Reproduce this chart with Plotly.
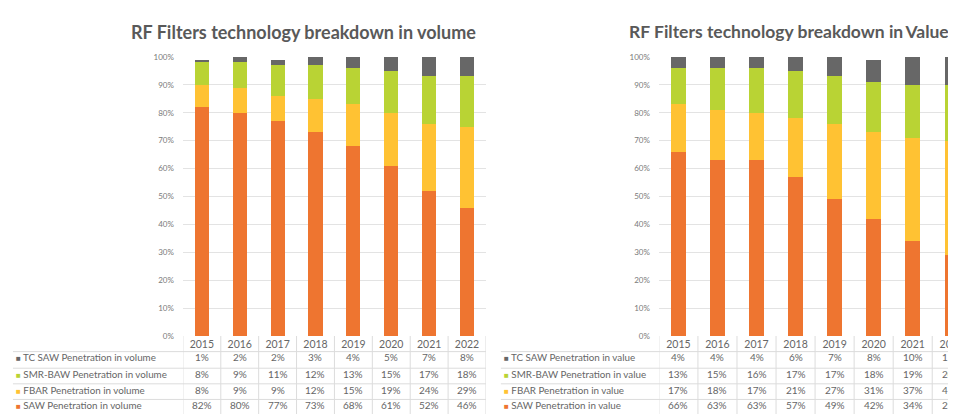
import plotly.graph_objects as go
from plotly.subplots import make_subplots

years = ["2015", "2016", "2017", "2018", "2019", "2020", "2021", "2022"]

# volume breakdown (%)
vol_saw = [82, 80, 77, 73, 68, 61, 52, 46]
vol_fbar = [8, 9, 9, 12, 15, 19, 24, 29]
vol_smr = [8, 9, 11, 12, 13, 15, 17, 18]
vol_tc = [1, 2, 2, 3, 4, 5, 7, 8]

# value breakdown (%)
val_saw = [66, 63, 63, 57, 49, 42, 34, 29]
val_fbar = [17, 18, 17, 21, 27, 31, 37, 41]
val_smr = [13, 15, 16, 17, 17, 18, 19, 20]
val_tc = [4, 4, 4, 6, 7, 8, 10, 11]

y_ticks = [0, 10, 20, 30, 40, 50, 60, 70, 80, 90, 100]
y_tick_labels = [f"{v}%" for v in y_ticks]

colors = {"saw": "#EE7530", "fbar": "#FFC233", "smr": "#B9D334", "tc": "#676767"}

W, H = 956, 414
FONT = "Lato"
TXT = "#666666"
GRID = "#e3e3e3"
LINE = "#dcdcdc"

def px_x(p):
    return p / W

def px_y(p):
    return 1 - p / H

fig = make_subplots(rows=1, cols=2)

panels = [
    (1, "x", "volume", [("tc", "TC SAW", vol_tc), ("smr", "SMR-BAW", vol_smr),
                        ("fbar", "FBAR", vol_fbar), ("saw", "SAW", vol_saw)]),
    (2, "x2", "value", [("tc", "TC SAW", val_tc), ("smr", "SMR-BAW", val_smr),
                        ("fbar", "FBAR", val_fbar), ("saw", "SAW", val_saw)]),
]

for col, xref, kind, rows in panels:
    # stack bottom-up: SAW, FBAR, SMR-BAW, TC SAW
    for key, name, vals in reversed(rows):
        fig.add_trace(go.Bar(x=years, y=vals, name=f"{name} Penetration in {kind}",
                             marker=dict(color=colors[key], line=dict(width=0)),
                             showlegend=False, hoverinfo="skip"), row=1, col=col)

fig.update_layout(barmode="stack", bargap=0.63)

# table geometry (pixels)
row_y = [353, 370, 386, 402]
hlines_y = [347, 364, 380, 396, 413]
plot_bottom = 331
label_left = {"x": 5, "x2": 496}
table_right = {"x": 481, "x2": 956}

annotations = []
shapes = []
for col, xref, kind, rows in panels:
    for (key, name, vals), ry in zip(rows, row_y):
        annotations.append(dict(
            x=px_x(label_left[xref] + 2), y=px_y(ry), xref="paper", yref="paper",
            xanchor="left", yanchor="middle", showarrow=False, borderpad=0,
            text=f"<span style='color:{colors[key]};font-size:8px'>■</span> {name} Penetration in {kind}",
            font=dict(family=FONT, size=9.8, color=TXT)))
        for i, v in enumerate(vals):
            # category index, not the year string (numeric strings read as indices)
            annotations.append(dict(
                x=i, y=px_y(ry), xref=xref, yref="paper", borderpad=0,
                xanchor="center", yanchor="middle", showarrow=False,
                text=f"{v}%", font=dict(family=FONT, size=10, color=TXT)))
    for hy in hlines_y:
        shapes.append(dict(type="line", xref="paper", yref="paper",
                           x0=px_x(label_left[xref]), x1=px_x(table_right[xref]),
                           y0=px_y(hy), y1=px_y(hy), line=dict(color=LINE, width=1)))
    for i in range(len(years) + 1):
        shapes.append(dict(type="line", xref=xref, yref="paper",
                           x0=i - 0.5, x1=i - 0.5, y0=px_y(plot_bottom), y1=0,
                           line=dict(color=LINE, width=1)))

annotations.append(dict(
    x=px_x(122), y=px_y(19), xref="paper", yref="paper", xanchor="left", yanchor="middle",
    showarrow=False, text="<b>RF Filters technology breakdown in volume</b>",
    font=dict(family=FONT, size=18, color="#595959")))
annotations.append(dict(
    x=px_x(623), y=px_y(19), xref="paper", yref="paper", xanchor="left", yanchor="middle",
    showarrow=False, text="<b>RF Filters technology breakdown in\u2009Value</b>",
    font=dict(family=FONT, size=17.5, color="#595959")))

y_dom = [px_y(plot_bottom), px_y(45)]
axis_common = dict(type="category", showgrid=False, zeroline=False, showline=False,
                   ticks="", tickfont=dict(family=FONT, size=10.5, color=TXT))
fig.update_xaxes(domain=[px_x(176), px_x(481)], range=[-0.5, 7.5], **axis_common, row=1, col=1)
fig.update_xaxes(domain=[px_x(655), 1], range=[-0.5, 7.16], **axis_common, row=1, col=2)
fig.update_yaxes(domain=y_dom, range=[0, 100], tickvals=y_ticks, ticktext=y_tick_labels,
                 showgrid=True, gridcolor=GRID, gridwidth=1, zeroline=False, showline=False,
                 ticks="", ticklabelstandoff=8,
                 tickfont=dict(family=FONT, size=8, color="#7a7a7a"))

fig.update_layout(
    width=W, height=H, margin=dict(l=0, r=0, t=0, b=0),
    paper_bgcolor="white", plot_bgcolor="white",
    annotations=annotations, shapes=shapes,
)

fig.write_html("out.html")
